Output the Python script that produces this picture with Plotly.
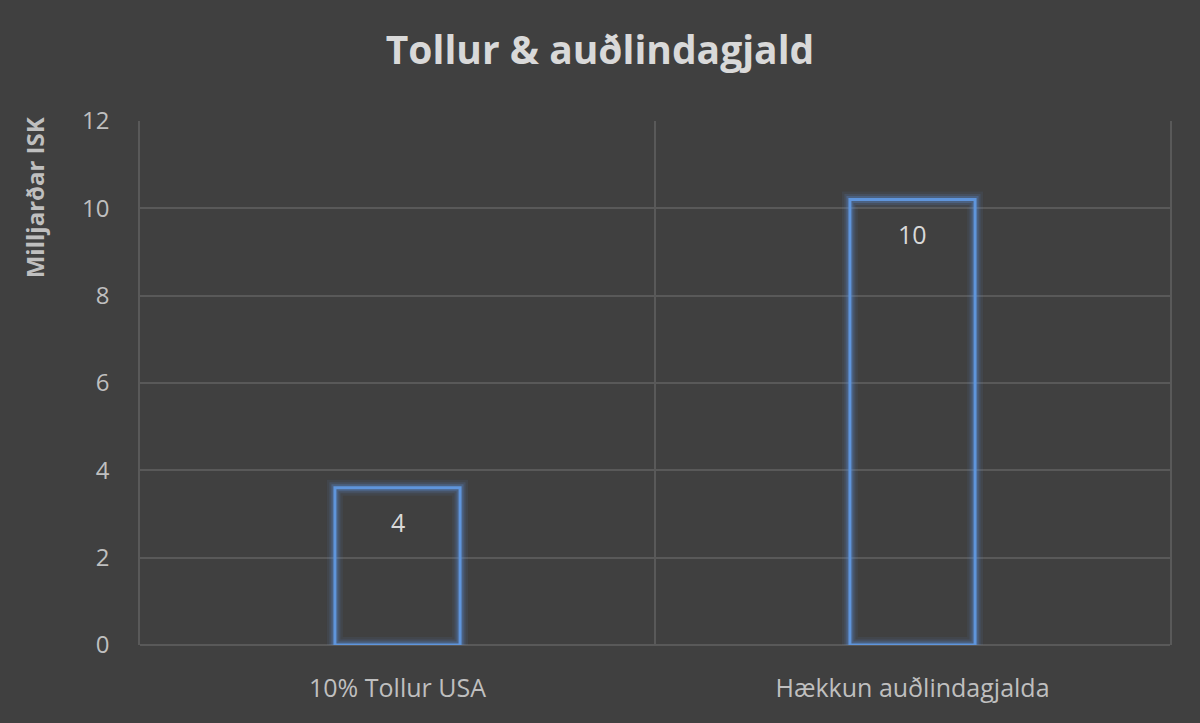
import plotly.graph_objects as go

categories = ["10% Tollur USA", "Hækkun auðlindagjalda"]
values = [3.6, 10.2]
value_labels = ["4", "10"]
y_ticks = [0, 2, 4, 6, 8, 10, 12]

bg = "#404040"
grid = "#595959"
blue = "#5f95dc"
font_name = "Open Sans"

fig = go.Figure()

# soft glow behind the outline
for w, alpha in [(16, 0.08), (11, 0.15), (7, 0.28)]:
    fig.add_trace(go.Bar(
        x=categories,
        y=values,
        width=0.243,
        marker=dict(color="rgba(0,0,0,0)",
                    line=dict(color=f"rgba(91,143,214,{alpha})", width=w)),
        hoverinfo="skip",
        showlegend=False,
    ))

fig.add_trace(go.Bar(
    x=categories,
    y=values,
    width=0.243,
    marker=dict(color="rgba(0,0,0,0)", line=dict(color=blue, width=3)),
    showlegend=False,
))

# value labels a little below the top of each bar
for cat, val, lab in zip(categories, values, value_labels):
    fig.add_annotation(
        x=cat, y=val, text=lab,
        showarrow=False,
        yanchor="middle", yshift=-34,
        font=dict(size=25, color="#d9d9d9", family=font_name),
    )

fig.update_layout(
    width=1200,
    height=723,
    barmode="overlay",
    paper_bgcolor=bg,
    plot_bgcolor=bg,
    margin=dict(l=140, r=30, t=121, b=78),
    title=dict(
        text="<b>Tollur & auðlindagjald</b>",
        x=0.5, xanchor="center",
        y=0.93, yanchor="middle",
        font=dict(size=39, color="#d9d9d9", family=font_name),
    ),
    font=dict(family=font_name, color="#bfbfbf"),
)

fig.update_xaxes(
    type="category",
    tickson="boundaries",
    showgrid=True,
    gridcolor=grid,
    gridwidth=1.5,
    ticks="",
    showline=False,
    zeroline=False,
    ticklabelstandoff=26,
    tickfont=dict(size=25, color="#bfbfbf", family=font_name),
)

fig.update_yaxes(
    range=[0, 12],
    tickvals=y_ticks,
    showgrid=True,
    gridcolor=grid,
    gridwidth=1.5,
    zeroline=True,
    zerolinecolor=grid,
    zerolinewidth=1.5,
    showline=True,
    mirror=True,
    linecolor=grid,
    linewidth=1.5,
    ticklabelstandoff=24,
    tickfont=dict(size=24, color="#bfbfbf", family=font_name),
)

fig.add_annotation(
    text="<b>Milljarðar ISK</b>",
    textangle=-90,
    xref="paper", yref="paper",
    x=0, y=1.01,
    xanchor="center", yanchor="top",
    xshift=-106,
    showarrow=False,
    font=dict(size=24, color="#bfbfbf", family=font_name),
)

fig.write_html("out.html", config={"displayModeBar": False},
               post_script="document.body.style.margin='0';")
